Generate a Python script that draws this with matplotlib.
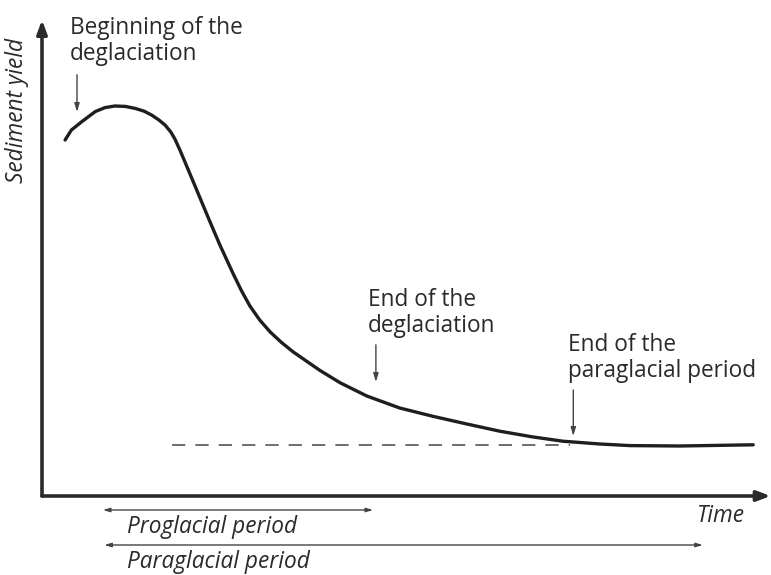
import matplotlib
matplotlib.use("Agg")
import matplotlib.pyplot as plt

plt.rcParams["font.family"] = ["Open Sans", "DejaVu Sans"]

# sediment yield through time (arbitrary units, axis origin at 0, 0)
time = [3.3, 4.2, 5.7, 7.6, 9.0, 10.4, 11.9, 13.3, 14.6, 15.7, 16.7, 17.6,
        18.4, 19.0, 19.7, 20.4, 21.6, 23.6, 25.4, 27.3, 28.5, 29.7, 31.1,
        32.6, 34.2, 35.9, 39.7, 42.6, 46.4, 51.1, 55.9, 60.7, 65.4, 70.0,
        74.4, 79.7, 84.0, 91.1, 101.6]
sediment_yield = [89.0, 91.5, 93.6, 96.1, 97.1, 97.5, 97.4, 96.9, 96.2, 95.2,
                  94.0, 92.7, 91.0, 89.2, 86.5, 83.6, 78.6, 70.2, 62.8, 55.6,
                  51.3, 47.5, 44.0, 41.0, 38.4, 36.0, 31.4, 28.3, 25.0, 22.0,
                  19.9, 18.0, 16.2, 14.8, 13.7, 13.0, 12.6, 12.5, 12.8]

# background yield level (dashed)
baseline_level = 12.75
baseline_span = [18.6, 75.4]

# marked events: time of the event and label
event_time = [5.0, 47.7, 75.9]
event_labels = ["Beginning of the\ndeglaciation",
                "End of the\ndeglaciation",
                "End of the\nparaglacial period"]

# periods shown under the time axis
period_labels = ["Proglacial period", "Paraglacial period"]
period_start = [8.7, 8.9]
period_end = [47.3, 94.4]

INK = "#2a2a2a"
FS = 16.3

fig = plt.figure(figsize=(7.71, 5.75), dpi=100)
ax = fig.add_axes([42 / 771, 79 / 575, 700 / 771, 400 / 575])
ax.set_xlim(0, 100)
ax.set_ylim(0, 100)
ax.axis("off")

# axes with arrow heads
head = "-|>,head_length=0.8,head_width=0.3"
ax.annotate("", xy=(0, 119), xytext=(0, 0),
            arrowprops=dict(arrowstyle=head, color=INK, lw=2.6,
                            shrinkA=0, shrinkB=0),
            annotation_clip=False)
ax.annotate("", xy=(104.1, 0), xytext=(0, 0),
            arrowprops=dict(arrowstyle=head, color=INK, lw=2.6,
                            shrinkA=0, shrinkB=0),
            annotation_clip=False)

ax.plot(time, sediment_yield, color="#1e1e1e", lw=2.4, solid_capstyle="round",
        solid_joinstyle="round", clip_on=False)
ax.plot(baseline_span, [baseline_level] * 2, color="#555555", lw=1.2,
        dashes=(8, 6), clip_on=False)

# event pointers
arrow_tops = [105.3, 37.8, 26.5]
arrow_tips = [96.0, 28.5, 15.0]
label_pos = [(4.0, 120.0), (46.6, 52.0), (75.1, 40.8)]
for t, top, tip, (lx, ly), label in zip(event_time, arrow_tops, arrow_tips,
                                          label_pos, event_labels):
    ax.annotate("", xy=(t, tip), xytext=(t, top),
                arrowprops=dict(arrowstyle="-|>,head_length=0.5,head_width=0.15",
                                color="#444444", lw=1.0, shrinkA=0, shrinkB=0),
                annotation_clip=False)
    ax.text(lx, ly, label, ha="left", va="top", fontsize=FS, color=INK,
            linespacing=1.1, clip_on=False)

# periods below the time axis
period_y = [-3.5, -12.25]
for start, end, y, label in zip(period_start, period_end, period_y, period_labels):
    ax.annotate("", xy=(end, y), xytext=(start, y),
                arrowprops=dict(arrowstyle="<|-|>,head_length=0.4,head_width=0.12",
                                color="#444444", lw=1.0, shrinkA=0, shrinkB=0),
                annotation_clip=False)
    ax.text(12.1, y - 4.2, label, ha="left", va="center", fontsize=FS,
            style="italic", color=INK, clip_on=False)

ax.text(93.6, -5.0, "Time", ha="left", va="center", fontsize=FS,
        style="italic", color=INK, clip_on=False)
ax.text(-3.6, 96.5, "Sediment yield", ha="center", va="center", fontsize=FS,
        style="italic", rotation=90, color=INK, clip_on=False)

fig.savefig("out.png", dpi=100, facecolor="white")
